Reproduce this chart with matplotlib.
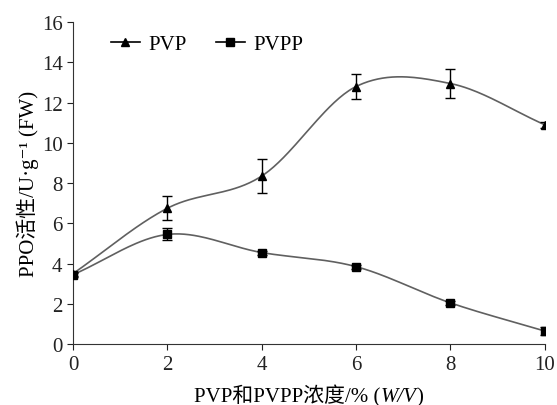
import matplotlib
matplotlib.use("Agg")
import matplotlib.pyplot as plt
import numpy as np

plt.rcParams['font.family'] = ['Liberation Serif', 'Noto Sans CJK SC', 'DejaVu Serif']

# data
conc = [0, 2, 4, 6, 8, 10]
pvp = [3.5, 6.75, 8.35, 12.8, 12.95, 10.9]
pvp_err = [0.1, 0.6, 0.85, 0.6, 0.7, 0.15]
pvpp = [3.45, 5.45, 4.55, 3.85, 2.05, 0.65]
pvpp_err = [0.1, 0.3, 0.1, 0.1, 0.1, 0.2]
xticks = [0, 2, 4, 6, 8, 10]
yticks = [0, 2, 4, 6, 8, 10, 12, 14, 16]


def smooth_line(x, y, n=40):
    # Catmull-Rom style smoothing (like a "smoothed line" in office charts)
    x = np.asarray(x, float)
    y = np.asarray(y, float)
    k = len(x)
    m = np.zeros(k)
    for i in range(k):
        lo, hi = max(i - 1, 0), min(i + 1, k - 1)
        m[i] = (y[hi] - y[lo]) / (x[hi] - x[lo])
    xs_all, ys_all = [], []
    for i in range(k - 1):
        h = x[i + 1] - x[i]
        t = np.linspace(0, 1, n)
        h00 = 2 * t**3 - 3 * t**2 + 1
        h10 = t**3 - 2 * t**2 + t
        h01 = -2 * t**3 + 3 * t**2
        h11 = t**3 - t**2
        xs_all.append(x[i] + t * h)
        ys_all.append(h00 * y[i] + h10 * h * m[i] + h01 * y[i + 1] + h11 * h * m[i + 1])
    return np.concatenate(xs_all), np.concatenate(ys_all)


fig = plt.figure(figsize=(5.57, 4.06), dpi=100)
ax = fig.add_axes([0.131, 0.150, 0.847, 0.793])

line_col = '#606060'
for vals, err, mk, ms, lab in [(pvp, pvp_err, '^', 6, 'PVP'), (pvpp, pvpp_err, 's', 6, 'PVPP')]:
    xs, ys = smooth_line(conc, vals)
    ax.plot(xs, ys, color=line_col, lw=1.2, zorder=2)
    ax.errorbar(conc, vals, yerr=err, fmt='none', ecolor='black', elinewidth=1.0,
                capsize=3.5, capthick=1.0, zorder=3)
    ax.plot(conc, vals, linestyle='none', marker=mk, ms=ms, color='black', zorder=4)
    ax.plot([], [], color='black', lw=1.2, marker=mk, ms=ms, label=lab)

ax.set_xlim(0, 10)
ax.set_ylim(0, 16)
ax.set_xticks(xticks)
ax.set_yticks(yticks)
ax.spines['top'].set_visible(False)
ax.spines['right'].set_visible(False)
for s in ['left', 'bottom']:
    ax.spines[s].set_color('#333333')
ax.tick_params(direction='out', length=4, labelsize=15, colors='#222222')

ax.set_ylabel('PPO活性/U·g⁻¹ (FW)', fontsize=15)
ax.yaxis.set_label_coords(-0.072, 0.5)
xl = ax.set_xlabel('PVP和PVPP浓度/% (', fontsize=15)
ax.xaxis.set_label_coords(0.455, -0.125)
a1 = ax.annotate('W/V', xy=(1, 0), xycoords=xl, ha='left', va='bottom',
                 fontsize=15, style='italic')
ax.annotate(')', xy=(1, 0), xycoords=a1, ha='left', va='bottom', fontsize=15)

ax.legend(loc='upper left', ncol=2, frameon=False, fontsize=15, handlelength=1.4,
          handletextpad=0.4, columnspacing=1.4, bbox_to_anchor=(0.04, 1.02))

fig.savefig('out.png', dpi=100)
